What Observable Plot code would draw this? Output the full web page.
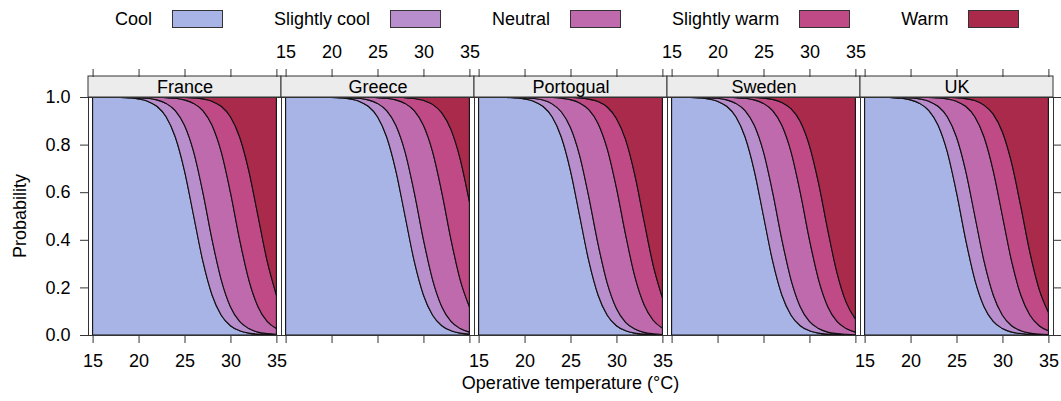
<!DOCTYPE html>
<html>
<head>
<meta charset="utf-8">
<script src="https://cdn.jsdelivr.net/npm/d3@7"></script>
<script src="https://cdn.jsdelivr.net/npm/@observablehq/plot@0.6"></script>
<style>
  body { margin: 0; background: #fff; font-family: "Liberation Sans", Arial, Helvetica, sans-serif; color: #000; }
  #wrap { position: relative; width: 1061px; height: 401px; overflow: hidden; }
  #chart { position: absolute; left: 0; top: 0; }
  #legend { position: absolute; left: 115px; top: 10px; display: flex; align-items: center; font-size: 18px; line-height: 18px; white-space: nowrap; }
  .item { display: flex; align-items: center; margin-right: 51px; flex: none; }
  .sw { width: 51px; height: 18px; box-sizing: border-box; border: 1px solid #333; margin-left: 20px; flex: none; }
  #xtitle { position: absolute; left: 86px; width: 969px; top: 373px; text-align: center; font-size: 18px; line-height: 20px; }
  #ytitle { position: absolute; left: -99px; top: 206px; width: 238px; height: 20px; line-height: 20px; text-align: center; font-size: 18px; transform: rotate(-90deg); transform-origin: 50% 50%; }
</style>
</head>
<body>
<div id="wrap">
  <div id="chart"></div>
  <div id="legend"></div>
  <div id="xtitle">Operative temperature (°C)</div>
  <div id="ytitle">Probability</div>
</div>
<script>
// ---- data ----
const temperature = [15,16,17,18,19,20,21,22,23,24,25,26,27,28,29,30,31,32,33,34,35];
const countries = ["France", "Greece", "Portogual", "Sweden", "UK"];
const categories = ["Cool", "Slightly cool", "Neutral", "Slightly warm", "Warm"];
const colors = ["#a9b4e6", "#b88ecc", "#c06aae", "#c04a86", "#aa2a4c"];
const xTicks = [15, 20, 25, 30, 35];
const yTicks = [0, 0.2, 0.4, 0.6, 0.8, 1.0];
const bottomLabelPanels = ["France", "Portogual", "UK"];
const topLabelPanels = ["Greece", "Sweden"];

// cumulative probability boundaries (upper edge of Cool, Slightly cool, Neutral, Slightly warm)
const franceB1 = [1.000,1.000,0.999,0.998,0.996,0.992,0.982,0.961,0.917,0.832,0.690,0.500,0.310,0.168,0.083,0.039,0.018,0.008,0.004,0.002,0.001];
const franceB2 = [1.000,1.000,1.000,0.999,0.999,0.997,0.995,0.988,0.973,0.943,0.881,0.769,0.599,0.401,0.232,0.119,0.057,0.027,0.012,0.006,0.003];
const franceB3 = [1.000,1.000,1.000,1.000,1.000,1.000,0.999,0.999,0.997,0.995,0.988,0.973,0.943,0.881,0.769,0.599,0.401,0.232,0.119,0.057,0.027];
const franceB4 = [1.000,1.000,1.000,1.000,1.000,1.000,1.000,1.000,1.000,0.999,0.998,0.996,0.992,0.982,0.961,0.917,0.832,0.690,0.500,0.310,0.168];

const greeceB1 = [1.000,1.000,1.000,1.000,0.999,0.998,0.996,0.992,0.982,0.961,0.917,0.832,0.690,0.500,0.310,0.168,0.083,0.039,0.018,0.008,0.004];
const greeceB2 = [1.000,1.000,1.000,1.000,1.000,0.999,0.999,0.997,0.995,0.988,0.973,0.943,0.881,0.769,0.599,0.401,0.232,0.119,0.057,0.027,0.012];
const greeceB3 = [1.000,1.000,1.000,1.000,1.000,1.000,1.000,1.000,0.999,0.999,0.997,0.995,0.988,0.973,0.943,0.881,0.769,0.599,0.401,0.232,0.119];
const greeceB4 = [1.000,1.000,1.000,1.000,1.000,1.000,1.000,1.000,1.000,1.000,1.000,0.999,0.999,0.997,0.994,0.986,0.969,0.933,0.863,0.739,0.560];

const portB1 = [1.000,1.000,0.999,0.998,0.996,0.992,0.982,0.961,0.917,0.832,0.690,0.500,0.310,0.168,0.083,0.039,0.018,0.008,0.004,0.002,0.001];
const portB2 = [1.000,1.000,1.000,0.999,0.999,0.997,0.994,0.987,0.971,0.938,0.872,0.754,0.579,0.382,0.218,0.111,0.053,0.025,0.011,0.005,0.002];
const portB3 = [1.000,1.000,1.000,1.000,1.000,1.000,1.000,0.999,0.998,0.995,0.989,0.975,0.947,0.889,0.782,0.618,0.421,0.246,0.128,0.062,0.029];
const portB4 = [1.000,1.000,1.000,1.000,1.000,1.000,1.000,1.000,1.000,0.999,0.998,0.996,0.991,0.981,0.958,0.910,0.821,0.673,0.480,0.293,0.157];

const swedenB1 = [1.000,0.999,0.998,0.996,0.992,0.982,0.961,0.917,0.832,0.690,0.500,0.310,0.168,0.083,0.039,0.018,0.008,0.004,0.002,0.001,0.000];
const swedenB2 = [1.000,1.000,0.999,0.999,0.997,0.995,0.988,0.973,0.943,0.881,0.769,0.599,0.401,0.232,0.119,0.057,0.027,0.012,0.006,0.003,0.001];
const swedenB3 = [1.000,1.000,1.000,1.000,1.000,0.999,0.999,0.997,0.995,0.988,0.973,0.943,0.881,0.769,0.599,0.401,0.232,0.119,0.057,0.027,0.012];
const swedenB4 = [1.000,1.000,1.000,1.000,1.000,1.000,1.000,1.000,0.999,0.998,0.995,0.990,0.977,0.951,0.897,0.796,0.637,0.440,0.261,0.137,0.067];

const ukB1 = [1.000,0.999,0.999,0.997,0.995,0.988,0.973,0.943,0.881,0.769,0.599,0.401,0.232,0.119,0.057,0.027,0.012,0.006,0.003,0.001,0.000];
const ukB2 = [1.000,1.000,1.000,0.999,0.998,0.996,0.992,0.982,0.961,0.917,0.832,0.690,0.500,0.310,0.168,0.083,0.039,0.018,0.008,0.004,0.002];
const ukB3 = [1.000,1.000,1.000,1.000,1.000,1.000,0.999,0.998,0.996,0.992,0.982,0.961,0.917,0.832,0.690,0.500,0.310,0.168,0.083,0.039,0.018];
const ukB4 = [1.000,1.000,1.000,1.000,1.000,1.000,1.000,1.000,0.999,0.999,0.997,0.993,0.985,0.966,0.928,0.853,0.723,0.540,0.345,0.192,0.096];

// ---- build tables for the library ----
const boundaries = {
  "France": [franceB1, franceB2, franceB3, franceB4],
  "Greece": [greeceB1, greeceB2, greeceB3, greeceB4],
  "Portogual": [portB1, portB2, portB3, portB4],
  "Sweden": [swedenB1, swedenB2, swedenB3, swedenB4],
  "UK": [ukB1, ukB2, ukB3, ukB4]
};
const rows = [];
for (const c of countries) {
  const B = boundaries[c];
  temperature.forEach((t, i) => {
    categories.forEach((cat, k) => {
      rows.push({country: c, t, cat, lo: k === 0 ? 0 : B[k - 1][i], hi: k === 4 ? 1 : B[k][i]});
    });
  });
}
const bottomLabels = bottomLabelPanels.flatMap(c => xTicks.map(t => ({country: c, t, label: String(t)})));
const topLabels = topLabelPanels.flatMap(c => xTicks.map(t => ({country: c, t, label: String(t)})));

const axisColor = "#333";
const chart = Plot.plot({
  width: 1061,
  height: 401,
  marginTop: 97,
  marginBottom: 66,
  marginLeft: 86,
  marginRight: 6,
  style: {fontFamily: "'Liberation Sans', Arial, Helvetica, sans-serif", fontSize: "18px", color: "#000", background: "transparent"},
  fx: {domain: countries, padding: 0, axis: null},
  x: {domain: [14.5, 35.5]},
  y: {domain: [0, 1]},
  color: {domain: categories, range: colors},
  marks: [
    Plot.areaY(rows, {fx: "country", x: "t", y1: "lo", y2: "hi", z: "cat", fill: "cat", stroke: "#111", strokeWidth: 1.1, curve: "monotone-x"}),
    Plot.frame({stroke: axisColor}),
    Plot.rect(countries, {fx: d => d, y1: 1, y2: 1, insetTop: -21, fill: "#ececec", stroke: axisColor}),
    Plot.text(countries, {fx: d => d, text: d => d, frameAnchor: "top", lineAnchor: "middle", dy: -10.5, fontSize: 18}),
    Plot.axisX(xTicks, {anchor: "bottom", tickSize: 8, tickFormat: () => "", label: null, stroke: axisColor}),
    Plot.axisX(xTicks, {anchor: "top", tickSize: 8, tickFormat: () => "", label: null, stroke: axisColor, dy: -21}),
    Plot.text(bottomLabels, {fx: "country", x: "t", text: "label", frameAnchor: "bottom", lineAnchor: "middle", dy: 26, fontSize: 18}),
    Plot.text(topLabels, {fx: "country", x: "t", text: "label", frameAnchor: "top", lineAnchor: "middle", dy: -45, fontSize: 18}),
    Plot.axisY(yTicks, {anchor: "left", tickSize: 8, tickPadding: 10, tickFormat: d3.format(".1f"), label: null, stroke: axisColor, fontSize: 18}),
    Plot.axisY(yTicks, {anchor: "right", tickSize: 8, tickFormat: () => "", label: null, stroke: axisColor})
  ]
});
document.getElementById("chart").appendChild(chart);

// legend
const legend = document.getElementById("legend");
categories.forEach((cat, k) => {
  const item = document.createElement("div");
  item.className = "item";
  const label = document.createElement("span");
  label.textContent = cat;
  const sw = document.createElement("div");
  sw.className = "sw";
  sw.style.background = colors[k];
  item.appendChild(label);
  item.appendChild(sw);
  legend.appendChild(item);
});
</script>
</body>
</html>
